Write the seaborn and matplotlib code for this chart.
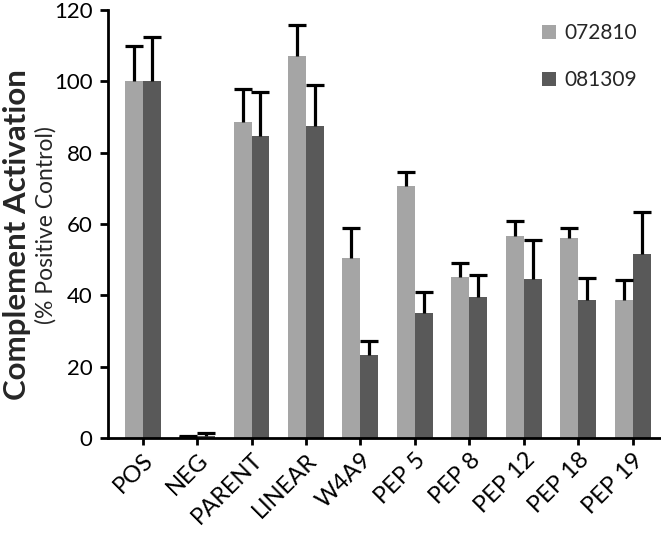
import matplotlib
matplotlib.use("Agg")
import matplotlib.pyplot as plt
import seaborn as sns
import pandas as pd
import numpy as np

categories = ["POS", "NEG", "PARENT", "LINEAR", "W4A9", "PEP 5", "PEP 8", "PEP 12", "PEP 18", "PEP 19"]
series_names = ["072810", "081309"]
vals_072810 = [100.0, 0.5, 88.6, 107.0, 50.5, 70.8, 45.1, 56.8, 56.1, 38.8]
err_072810 = [10.0, 0.2, 9.4, 8.7, 8.5, 3.7, 3.9, 4.2, 2.8, 5.4]
vals_081309 = [100.0, 0.6, 84.8, 87.4, 23.3, 35.0, 39.7, 44.6, 38.8, 51.6]
err_081309 = [12.5, 0.8, 12.2, 11.6, 3.9, 6.0, 5.9, 11.0, 6.1, 11.8]
colors = ["#a5a5a5", "#595959"]

df = pd.DataFrame({
    "cat": categories * 2,
    "val": vals_072810 + vals_081309,
    "series": [series_names[0]] * len(categories) + [series_names[1]] * len(categories),
})

sns.set_theme(style="white")
plt.rcParams["font.family"] = ["Lato", "DejaVu Sans"]

fig = plt.figure(figsize=(6.61, 5.33), dpi=100)
ax = fig.add_axes([0.163, 0.178, 0.837, 0.803])

sns.barplot(data=df, x="cat", y="val", hue="series", palette=colors,
            errorbar=None, width=0.66, saturation=1, ax=ax, order=categories,
            hue_order=series_names, linewidth=0, edgecolor="none")

for cont, errs in zip(ax.containers, [err_072810, err_081309]):
    xs = [p.get_x() + p.get_width() / 2 for p in cont.patches]
    hs = [p.get_height() for p in cont.patches]
    eb = ax.errorbar(xs, hs, yerr=[np.zeros(len(errs)), errs], fmt="none",
                     ecolor="black", elinewidth=2.3, capsize=6.5, capthick=2.3, zorder=1)
    caps = eb[1]
    if len(caps) == 2:
        caps[0].set_visible(False)

ax.set_ylim(0, 120)
ax.set_yticks(range(0, 121, 20))
ax.set_xlim(-0.64, len(categories) - 1 + 0.52)
for s in ["top", "right"]:
    ax.spines[s].set_visible(False)
for s in ["left", "bottom"]:
    ax.spines[s].set_linewidth(2.0)
    ax.spines[s].set_color("black")
ax.tick_params(axis="both", which="both", direction="out", width=2, color="black",
               labelcolor="black")
ax.tick_params(axis="y", length=6, left=True, labelsize=16, pad=5)
ax.tick_params(axis="x", length=5, bottom=True, labelsize=17, pad=3)
plt.setp(ax.get_xticklabels(), rotation=45, ha="right", rotation_mode="anchor")
ax.set_xlabel("")
ax.set_ylabel("")

fig.text(0.026, 0.559, "Complement Activation", rotation=90, fontsize=22.5,
         fontweight="bold", ha="center", va="center")
fig.text(0.070, 0.578, "(% Positive Control)", rotation=90, fontsize=16.5,
         ha="center", va="center")

leg = ax.legend(loc="upper right", bbox_to_anchor=(0.99, 1.013), frameon=False,
                fontsize=15, handlelength=0.65, handleheight=0.65, handletextpad=0.4,
                labelspacing=1.3)

fig.savefig("out.png", dpi=100)
